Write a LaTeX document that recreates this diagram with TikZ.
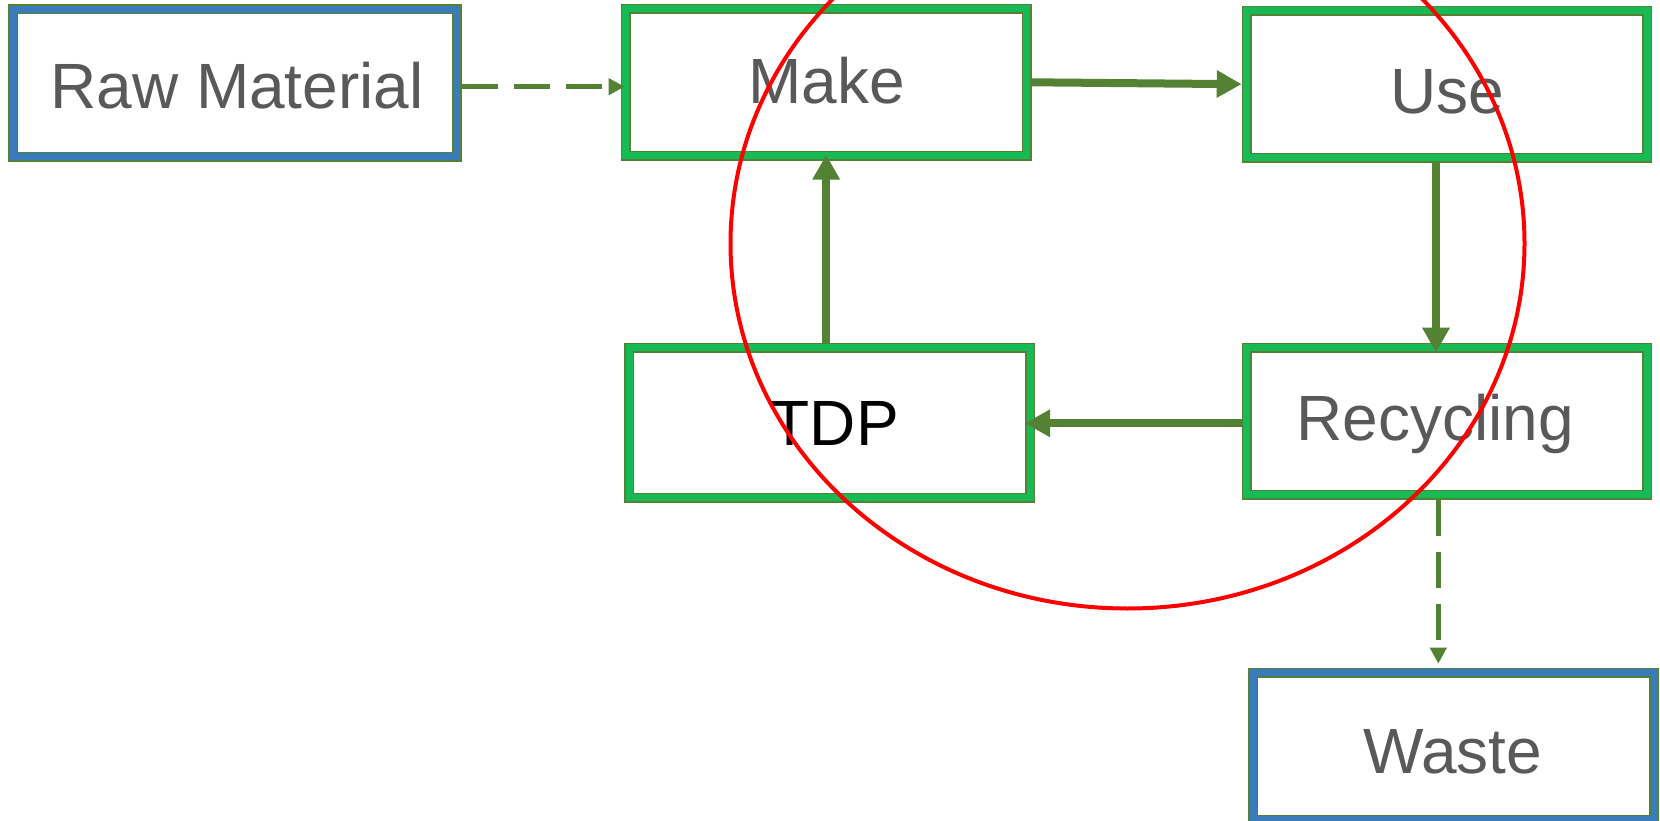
\documentclass[tikz,border=0pt]{standalone}
\usepackage{fontspec}
\setmainfont{Liberation Sans}
\usetikzlibrary{arrows.meta}
\definecolor{edge}{HTML}{548235}
\definecolor{bandblue}{HTML}{3A7CBB}
\definecolor{bandgreen}{HTML}{17BA55}
\definecolor{txt}{HTML}{595959}
\begin{document}
\begin{tikzpicture}[x=1pt,y=-1pt,
 box/.style={rectangle, draw=edge, double=#1, double distance=7pt, line width=1.5pt, fill=white, inner sep=0pt, outer sep=5pt},
 lbl/.style={anchor=base, text=txt, font=\fontsize{64}{76}\selectfont, inner sep=0pt},
 flow/.style={draw=edge, line width=8pt, -{Triangle[length=25pt,width=26pt]}},
 dflow/.style={draw=edge, line width=5pt, dash pattern=on 36pt off 16pt, -{Triangle[length=16pt,width=16pt]}}]
\useasboundingbox (0,0) rectangle (1660,821);
\clip (0,0) rectangle (1660,821);
\fill[white] (0,0) rectangle (1660,821);
% boxes
\node[box=bandblue, minimum width=443.4pt, minimum height=147.4pt] (raw) at (235,83) {};
\node[box=bandgreen, minimum width=401pt, minimum height=146.7pt] (make) at (826.2,82.3) {};
\node[box=bandgreen, minimum width=400.6pt, minimum height=147pt] (use) at (1447,84.2) {};
\node[box=bandgreen, minimum width=401pt, minimum height=150pt] (tdp) at (829.5,422.7) {};
\node[box=bandgreen, minimum width=400.6pt, minimum height=147.3pt] (rec) at (1447,421.3) {};
\node[box=bandblue, minimum width=400.7pt, minimum height=147pt] (waste) at (1453.7,746.2) {};
% labels
\node[lbl] (traw) at (237,108.3) {Raw Material};
\node[lbl] (tmake) at (826.7,103.3) {Make};
\node[lbl] (tuse) at (1447.5,113.3) {Use};
\node[lbl, text=black] (ttdp) at (834.7,445) {TDP};
\node[lbl] (trec) at (1435.3,440) {Recycling};
\node[lbl] (twaste) at (1452.5,773.3) {Waste};
% connectors
\draw[dflow, shorten >=-4pt] ([yshift=-3.7pt]raw.east) -- ([yshift=-4.4pt]make.west);
\draw[flow] (make.east) -- (use.west);
\draw[flow, shorten >=-6pt] (make.south |- tdp.north) -- (make.south);
\draw[flow, shorten >=-10pt] ([xshift=-11pt]use.south) -- ([xshift=-11pt]rec.north);
\draw[flow, shorten >=-10pt] ([yshift=-2pt]rec.west) -- ([yshift=-0.6pt]tdp.east);
\draw[dflow, shorten >=4pt] ([xshift=-8.7pt]rec.south) -- ([xshift=-15.4pt]waste.north);
% red ellipse
\draw[red, line width=4pt] (1127.5,243.5) ellipse [x radius=397pt, y radius=365pt];
\end{tikzpicture}
\end{document}
